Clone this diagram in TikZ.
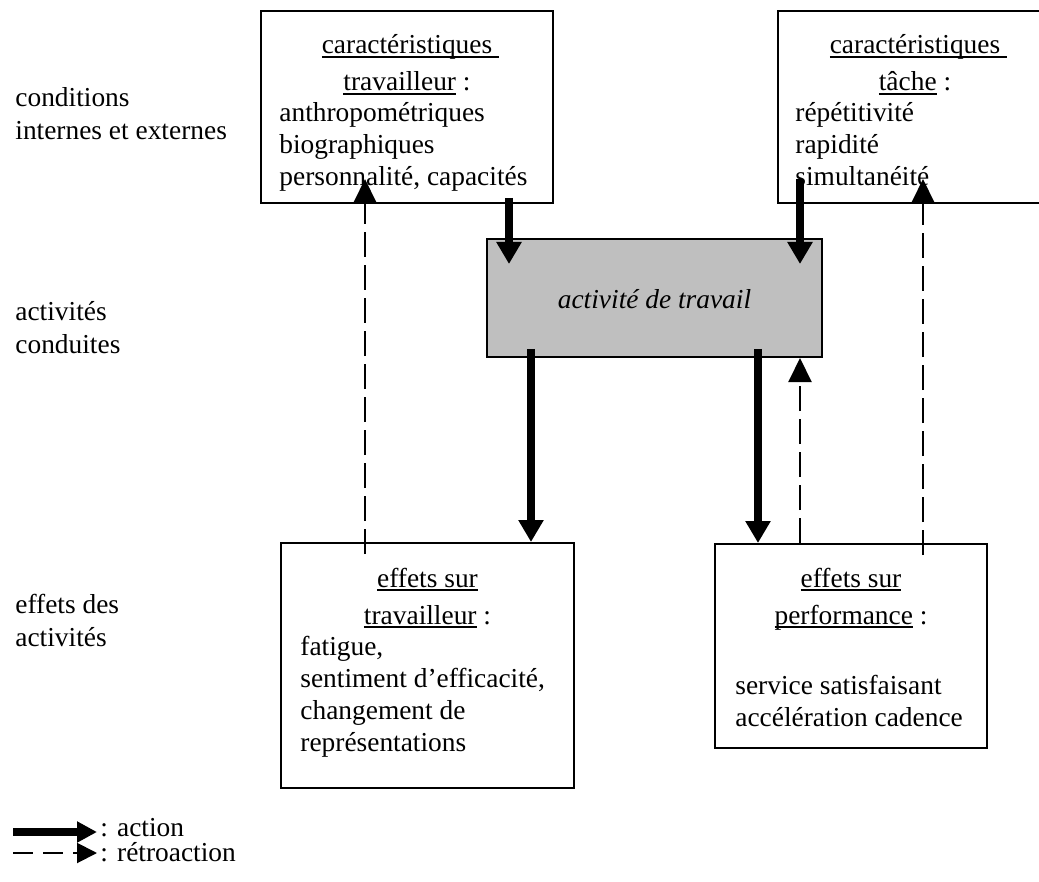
\documentclass[tikz,border=0pt]{standalone}
\usepackage{fontspec}
\setmainfont{Liberation Serif}
\usetikzlibrary{arrows.meta,fit}
\newlength\souwd
\newcommand\souligne[1]{\settowidth{\souwd}{#1}\rlap{\rule[-1.8pt]{\souwd}{0.7pt}}#1}

\tikzset{
  box/.style={draw, line width=1pt, inner sep=0pt},
  txt/.style={font=\fontsize{13.7}{16}\selectfont, inner sep=0pt, align=left, anchor=base west},
  lbl/.style={font=\fontsize{13.7}{16.5}\selectfont, inner sep=0pt, align=left, anchor=base west},
  ttl/.style={font=\fontsize{13.7}{18.5}\selectfont, inner sep=0pt, align=center, anchor=base},
  action/.style={line width=4pt, -{Triangle[width=12pt,length=11pt]}},
  retro/.style={line width=1pt, dash pattern=on 12.5pt off 4pt, -{Triangle[width=11.5pt,length=12pt]}},
}

\begin{document}
\begin{tikzpicture}[x=0.5pt,y=-0.5pt]
    \useasboundingbox (0,0) rectangle (1039,882);

    \node[box, fit={(261,11) (553,203)}] (trav) {};
    \node[box, fit={(778,11) (1052,203)}] (tache) {};
    \node[box, fill=black!25, fit={(487,239) (822,357)}] (activ) {};
    \node[box, fit={(281,543) (574,788)}] (efftrav) {};
    \node[box, fit={(715,544) (987,748)}] (effperf) {};

    \node[lbl] (condi) at (15,140) {conditions\\internes et externes};
    \node[lbl] (condu) at (15,353) {activités\\conduites};
    \node[lbl] (effdes) at (15,646) {effets des\\activités};

    \node[ttl] (travt) at (trav.north |- 0,91) {\souligne{caractéristiques\ }\\\souligne{travailleur} :};
    \node[txt] (travl) at (279,186) {anthropométriques\\biographiques\\personnalité, capacités};
    \node[ttl] (tachet) at (tache.north |- 0,91) {\souligne{caractéristiques\ }\\\souligne{tâche} :};
    \node[txt] (tachel) at (795,186) {répétitivité\\rapidité\\simultanéité};
    \node[ttl, font=\fontsize{13.7}{16}\selectfont\itshape] (activt) at (activ.center |- 0,308) {activité de travail};
    \node[ttl] (efftravt) at (efftrav.north |- 0,624) {\souligne{effets sur}\\\souligne{travailleur} :};
    \node[txt] (efftravl) at (300,751) {fatigue,\\sentiment d’efficacité,\\changement de\\représentations};
    \node[ttl] (effperft) at (effperf.north |- 0,624) {\souligne{effets sur}\\\souligne{performance} :};
    \node[txt] (effperfl) at (735,726) {service satisfaisant\\accélération cadence};

    \draw[action] ([yshift=3pt]trav.south -| 509,0) -- ([yshift=-13pt]activ.north -| 509,0);
    \draw[action] ([yshift=12.5pt]tache.south -| 800,0) -- ([yshift=-13pt]activ.north -| 800,0);
    \draw[action] ([yshift=4.5pt]activ.south -| 531,0) -- (efftrav.north -| 531,0);
    \draw[action] ([yshift=4.5pt]activ.south -| 758,0) -- (effperf.north -| 758,0);

    \draw[retro] ([yshift=-6pt]efftrav.north -| 365,0) -- ([yshift=12.5pt]trav.south -| 365,0);
    \draw[retro] ([yshift=-6pt]effperf.north -| 923,0) -- ([yshift=12.5pt]tache.south -| 923,0);
    \draw[retro] (effperf.north -| 800,0) -- (activ.south -| 800,0);

    \coordinate (la1) at (13,832);
    \coordinate (la2) at (97,832);
    \coordinate (lr1) at (13,853);
    \coordinate (lr2) at (97,853);
    \draw[action, -{Triangle[width=10pt,length=10pt]}] (la1) -- (la2);
    \draw[retro, dash pattern=on 10pt off 5pt, -{Triangle[width=10pt,length=10pt]}] (lr1) -- (lr2);
    \node[txt] (lact) at (100,836) {: action};
    \node[txt] (lret) at (100,861) {: rétroaction};
\end{tikzpicture}
\end{document}
